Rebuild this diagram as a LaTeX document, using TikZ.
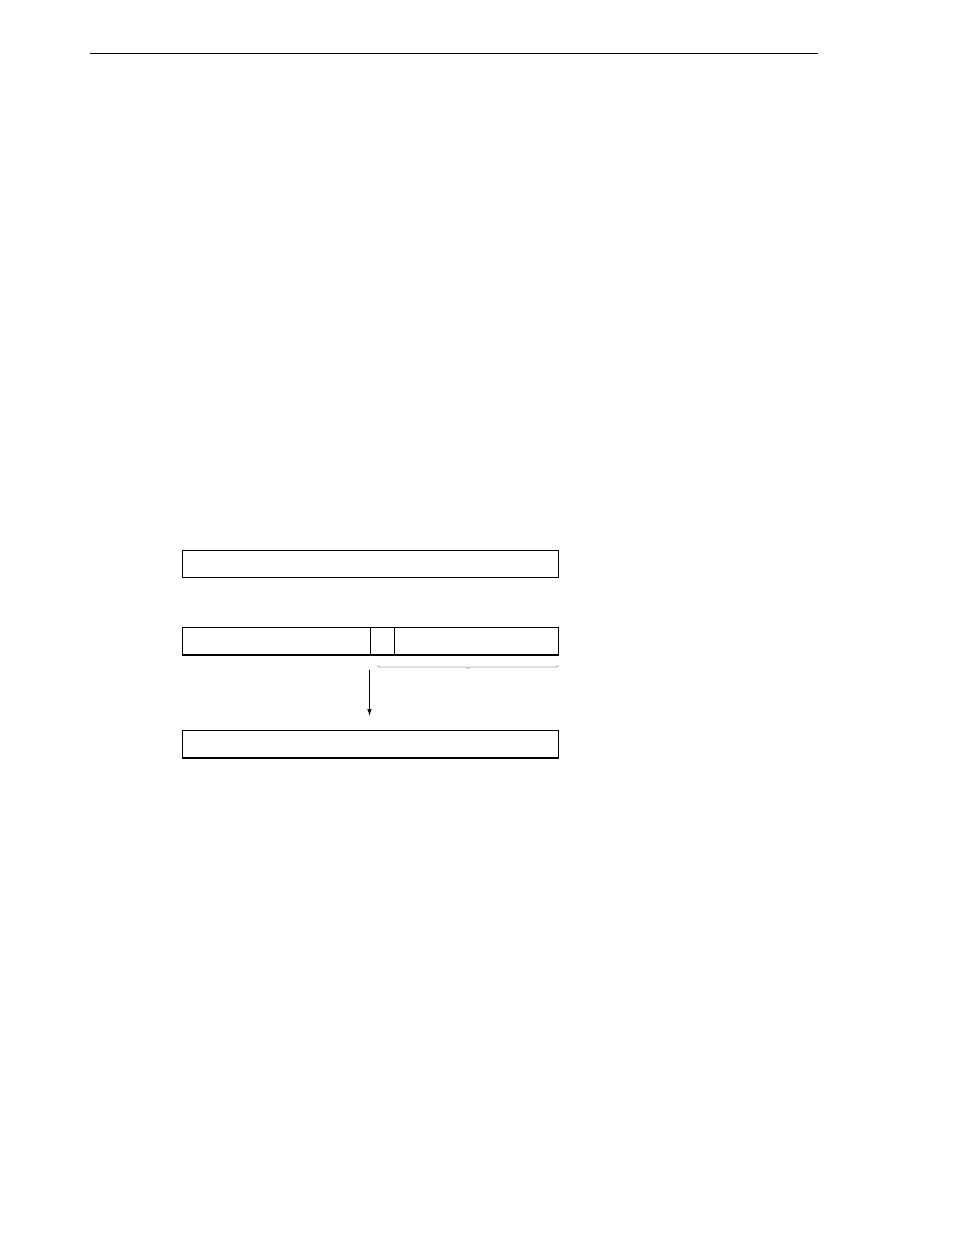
\documentclass[tikz,border=0pt]{standalone}
\usetikzlibrary{decorations.pathreplacing,arrows.meta}
\begin{document}
\begin{tikzpicture}[x=1pt,y=-1pt,
  field/.style={draw, line width=1pt, inner sep=0pt, anchor=north west, minimum height=27pt},
  thickbottom/.style={line width=2pt},
  bracestyle/.style={draw=gray!70, line width=0.8pt, decorate, decoration={brace, amplitude=3pt, mirror, raise=0pt}},
  flow/.style={-{Latex[length=7pt,width=4.5pt]}, line width=0.9pt}]
\useasboundingbox (0,0) rectangle (954,1235);
\coordinate (hl) at (90,53.5);
\coordinate (hr) at (818,53.5);
\draw[line width=1.2pt] (hl) -- (hr);
% top box
\node[field, minimum width=376.5pt] (top) at (181.8,549.5) {};
% middle row
\node[field, minimum width=188.5pt] (mleft) at (181.8,627) {};
\node[field, minimum width=24pt] (mmid) at (370.3,627) {};
\node[field, minimum width=164pt] (mright) at (394.3,627) {};
\draw[thickbottom] (mleft.south west) -- (mright.south east);
% bottom box
\node[field, minimum width=376.5pt] (bot) at (181.8,729.5) {};
\draw[thickbottom] (bot.south west) -- (bot.south east);
% brace
\coordinate (bl) at (377.5,665.5);
\coordinate (br) at (558.3,665.5);
\draw[bracestyle] (bl) -- (br);
% arrow
\coordinate (as) at (369.5,669.5);
\coordinate (ae) at (369.5,716);
\draw[flow] (as) -- (ae);
\end{tikzpicture}
\end{document}
